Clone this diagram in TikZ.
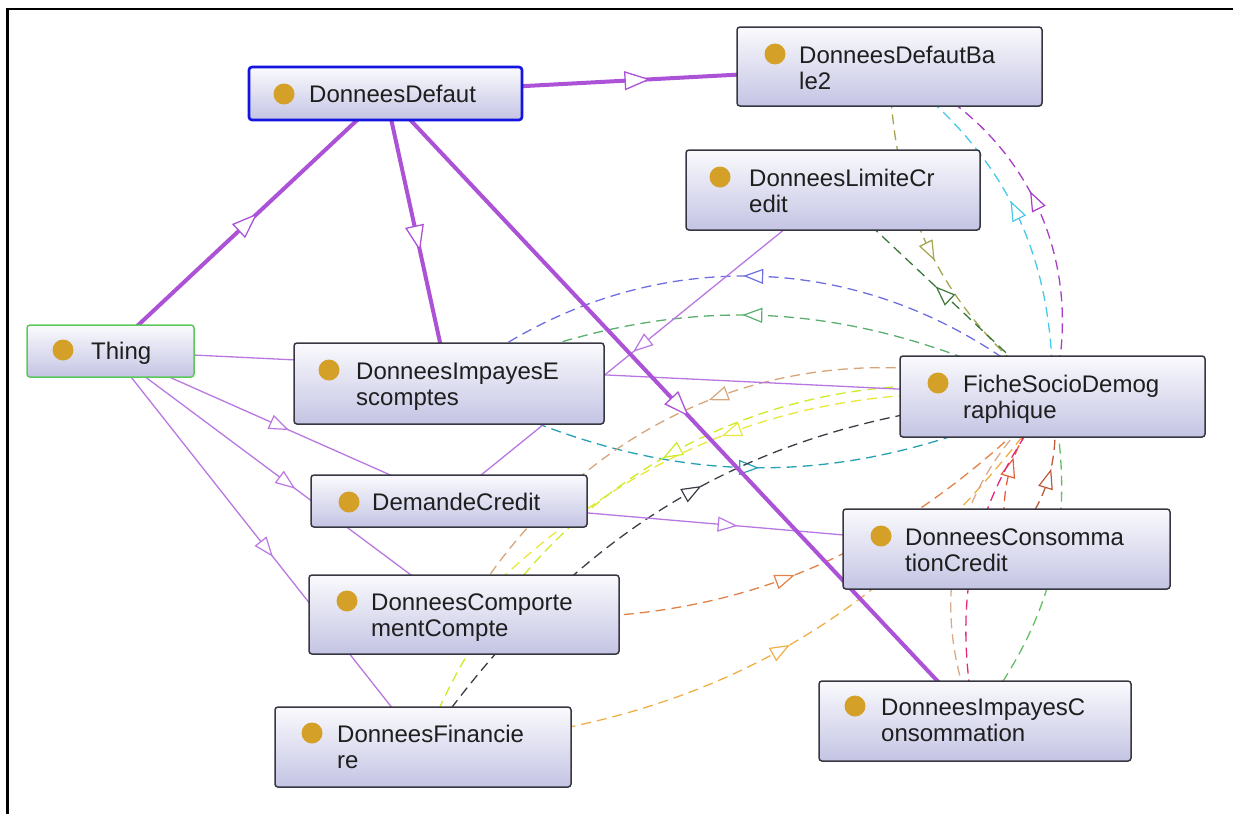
\documentclass[tikz,border=0pt]{standalone}
\usepackage{fontspec}
\setmainfont{Liberation Sans}
\usetikzlibrary{arrows.meta,decorations.markings}
\pgfdeclarelayer{bg}
\pgfsetlayers{bg,main}
\definecolor{pthick}{RGB}{172,82,215}
\definecolor{pthin}{RGB}{185,120,225}
\definecolor{boxline}{RGB}{55,55,65}
\definecolor{boxtop}{RGB}{250,250,253}
\definecolor{boxbot}{RGB}{196,196,228}
\definecolor{ddblue}{RGB}{20,20,225}
\definecolor{thgreen}{RGB}{90,200,90}
\definecolor{gold}{RGB}{212,160,40}
\definecolor{textc}{RGB}{30,30,30}
\definecolor{cBlue}{RGB}{110,110,225}
\definecolor{cGreen}{RGB}{90,175,110}
\definecolor{cTeal}{RGB}{40,160,180}
\definecolor{cTan}{RGB}{215,165,120}
\definecolor{cYellow}{RGB}{232,232,60}
\definecolor{cYG}{RGB}{205,235,40}
\definecolor{cGray}{RGB}{60,60,70}
\definecolor{cOrange}{RGB}{225,130,70}
\definecolor{cLOrange}{RGB}{240,175,70}
\definecolor{cCyan}{RGB}{70,200,235}
\definecolor{cMag}{RGB}{170,60,200}
\definecolor{cOlive}{RGB}{165,165,80}
\definecolor{cDGreen}{RGB}{60,120,60}
\definecolor{cBrown}{RGB}{190,90,60}
\definecolor{cRed}{RGB}{230,95,55}
\definecolor{cPink}{RGB}{230,40,120}
\definecolor{cTanB}{RGB}{215,170,140}
\definecolor{cGreenL}{RGB}{100,190,100}
\begin{document}
\begin{tikzpicture}[x=1pt,y=1pt,
  box/.style={draw=boxline, line width=1.5, rounded corners=3, top color=boxtop, bottom color=boxbot, inner sep=0},
  ddbox/.style={box, draw=ddblue, line width=2.6},
  thbox/.style={box, draw=thgreen, line width=1.5},
  dot/.style={circle, fill=gold, minimum size=21, inner sep=0},
  lbl/.style={anchor=base west, inner sep=0, text=textc, font=\fontsize{24}{27}\selectfont},
  thickE/.style={draw=pthick, line width=4},
  thinE/.style={draw=pthin, line width=1.3},
  dsh/.style={line width=1.3, dash pattern=on 10pt off 6pt},
  midbig/.style={postaction={decorate, decoration={markings, mark=at position 0.5 with {\arrow[solid, xshift=13pt]{Triangle[length=26pt, width=19pt, fill=white, line width=1.3pt]}}}}},
  midarr/.style={postaction={decorate, decoration={markings, mark=at position 0.5 with {\arrow[solid, xshift=10pt]{Triangle[length=20pt, width=15pt, fill=white, line width=1.2pt]}}}}}
]
\useasboundingbox (0,0) rectangle (1233,-814);
\draw[line width=2.5] (7.5,-814) -- (7.5,-9) -- (1233,-9);

% boxes
\node[ddbox, minimum width=273, minimum height=53] (dd) at (385.5,-93.5) {};
\node[dot] (dd-d) at (284,-94) {};
\node[lbl] (dd-t) at (309,-102) {DonneesDefaut};

\node[box, minimum width=305, minimum height=79] (ddb) at (889.5,-66.5) {};
\node[dot] (ddb-d) at (775,-54) {};
\node[lbl] (ddb-t1) at (799,-63) {DonneesDefautBa};
\node[lbl] (ddb-t2) at (799,-89) {le2};

\node[box, minimum width=294, minimum height=80] (dlc) at (833,-190) {};
\node[dot] (dlc-d) at (720,-177) {};
\node[lbl] (dlc-t1) at (749,-186) {DonneesLimiteCr};
\node[lbl] (dlc-t2) at (749,-212) {edit};

\node[thbox, minimum width=167, minimum height=52] (thing) at (110.5,-351) {};
\node[dot] (thing-d) at (63,-350) {};
\node[lbl] (thing-t) at (91,-359) {Thing};

\node[box, minimum width=310, minimum height=81] (die) at (449,-383.5) {};
\node[dot] (die-d) at (329,-370) {};
\node[lbl] (die-t1) at (356,-379) {DonneesImpayesE};
\node[lbl] (die-t2) at (356,-405) {scomptes};

\node[box, minimum width=305, minimum height=81] (fiche) at (1052.5,-396.5) {};
\node[dot] (fiche-d) at (938,-383) {};
\node[lbl] (fiche-t1) at (963,-392) {FicheSocioDemog};
\node[lbl] (fiche-t2) at (963,-418) {raphique};

\node[box, minimum width=276, minimum height=52] (dc) at (449,-501) {};
\node[dot] (dc-d) at (349,-502) {};
\node[lbl] (dc-t) at (372,-510) {DemandeCredit};

\node[box, minimum width=327, minimum height=80] (dcc) at (1006.5,-549) {};
\node[dot] (dcc-d) at (881,-536) {};
\node[lbl] (dcc-t1) at (905,-545) {DonneesConsomma};
\node[lbl] (dcc-t2) at (905,-571) {tionCredit};

\node[box, minimum width=310, minimum height=79] (dcomp) at (464,-614.5) {};
\node[dot] (dcomp-d) at (347,-601) {};
\node[lbl] (dcomp-t1) at (371,-610) {DonneesComporte};
\node[lbl] (dcomp-t2) at (371,-636) {mentCompte};

\node[box, minimum width=296, minimum height=80] (dfin) at (423,-747) {};
\node[dot] (dfin-d) at (312,-733) {};
\node[lbl] (dfin-t1) at (337,-742) {DonneesFinancie};
\node[lbl] (dfin-t2) at (337,-768) {re};

\node[box, minimum width=312, minimum height=80] (dic) at (975,-721) {};
\node[dot] (dic-d) at (855,-706) {};
\node[lbl] (dic-t1) at (881,-715) {DonneesImpayesC};
\node[lbl] (dic-t2) at (881,-741) {onsommation};

\begin{pgfonlayer}{bg}
% dashed property edges
\draw[dsh, cBlue, midarr] (fiche.center) to[bend right=40] (die.center);
\draw[dsh, cGreen, midarr] (fiche.center) to[bend right=25] (die.center);
\draw[dsh, cTeal, midarr] (die.center) to[bend right=26] (fiche.center);
\draw[dsh, cTan, midarr] (fiche.center) to[bend right=39] (dcomp.center);
\draw[dsh, cYellow, midarr] (fiche.center) to[bend right=25] (dcomp.center);
\draw[dsh, cYG, midarr] (fiche.center) to[bend right=40] (dfin.center);
\draw[dsh, cGray, midarr] (dfin.center) to[bend left=26] (fiche.center);
\draw[dsh, cOrange, midarr] (dcomp.center) to[bend right=25] (fiche.center);
\draw[dsh, cLOrange, midarr] (dfin.center) to[bend right=25] (fiche.center);
\draw[dsh, cCyan, midarr] (fiche.center) to[bend right=27] (ddb.center);
\draw[dsh, cMag, midarr] (fiche.center) to[bend right=41] (ddb.center);
\draw[dsh, cOlive, midarr] (ddb.center) to[bend right=25] (fiche.center);
\draw[dsh, cDGreen, midarr] (fiche.center) -- (dlc.center);
\draw[dsh, cBrown, midarr] (dcc.center) to[bend right=25] (fiche.center);
\draw[dsh, cRed, midarr] (dcc.center) to[bend left=25] (fiche.center);
\draw[dsh, cPink, midarr] (dic.center) to[bend left=24] (fiche.center);
\draw[dsh, cTanB, midarr] (dic.center) to[bend left=36] (fiche.center);
\draw[dsh, cGreenL, midarr] (dic.center) to[bend right=24] (fiche.center);
% subclass edges
\draw[thinE, midarr] (thing.center) -- (fiche.center);
\draw[thinE, midarr] (thing.center) -- (dc.center);
\draw[thinE, midarr] (thing.center) -- (dcomp.center);
\draw[thinE, midarr] (thing.center) -- (dfin.center);
\draw[thinE, midarr] (dlc.center) -- (dc.center);
\draw[thinE, midarr] (dc.center) -- (dcc.center);
\draw[thickE, midbig] (thing.center) -- (dd.center);
\draw[thickE, midbig] (dd.center) -- (ddb.center);
\draw[thickE, midbig] (dd.center) -- (die.center);
\draw[thickE, midbig] (dd.center) -- (dic.center);
\end{pgfonlayer}
\end{tikzpicture}
\end{document}
